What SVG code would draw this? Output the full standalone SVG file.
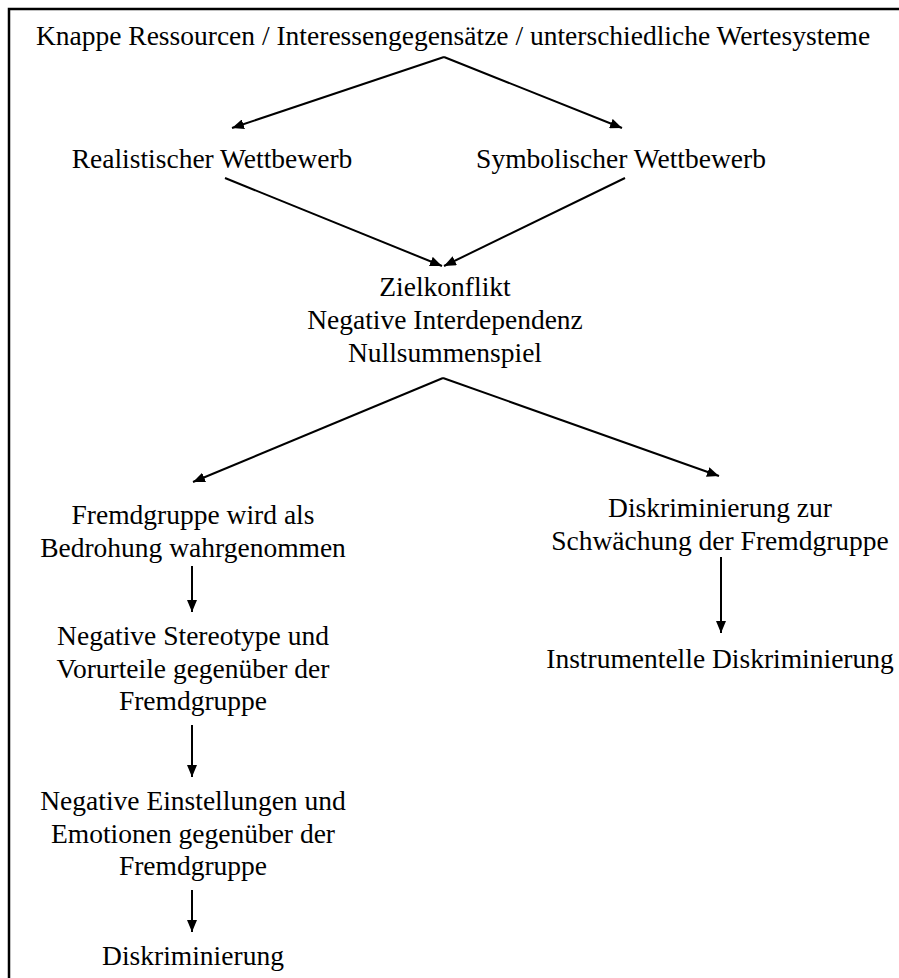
<svg xmlns="http://www.w3.org/2000/svg" width="899" height="978" viewBox="0 0 899 978">
  <style>
    .t { font-family: "Liberation Serif", "Times New Roman", serif; font-size: 27.5px; fill: #000; text-anchor: middle; }
    .c { stroke: #000; stroke-width: 2; fill: none; marker-end: url(#ah); }
  </style>
  <defs>
    <marker id="ah" viewBox="0 0 12 10" refX="12" refY="5" markerWidth="12" markerHeight="10" markerUnits="userSpaceOnUse" orient="auto">
      <path d="M0,0 L12,5 L0,10 Z" fill="#000"/>
    </marker>
  </defs>
  <rect width="899" height="978" fill="#fff"/>
  <!-- frame: top and left edges only -->
  <path d="M9,978 V9 H899" stroke="#000" stroke-width="2.5" fill="none"/>

  <g id="n-ursachen"><text class="t" x="453" y="45">Knappe Ressourcen / Interessengegensätze / unterschiedliche Wertesysteme</text></g>
  <g id="n-realistisch"><text class="t" x="212" y="168">Realistischer Wettbewerb</text></g>
  <g id="n-symbolisch"><text class="t" x="621" y="168">Symbolischer Wettbewerb</text></g>
  <g id="n-zielkonflikt">
    <text class="t" x="445" y="296">Zielkonflikt</text>
    <text class="t" x="445" y="329">Negative Interdependenz</text>
    <text class="t" x="445" y="362">Nullsummenspiel</text>
  </g>
  <g id="n-bedrohung">
    <text class="t" x="193" y="524">Fremdgruppe wird als</text>
    <text class="t" x="193" y="557">Bedrohung wahrgenommen</text>
  </g>
  <g id="n-stereotype">
    <text class="t" x="193" y="645">Negative Stereotype und</text>
    <text class="t" x="193" y="678">Vorurteile gegenüber der</text>
    <text class="t" x="193" y="710">Fremdgruppe</text>
  </g>
  <g id="n-einstellungen">
    <text class="t" x="193" y="810">Negative Einstellungen und</text>
    <text class="t" x="193" y="843">Emotionen gegenüber der</text>
    <text class="t" x="193" y="875">Fremdgruppe</text>
  </g>
  <g id="n-diskriminierung"><text class="t" x="193" y="965">Diskriminierung</text></g>
  <g id="n-schwaechung">
    <text class="t" x="720" y="517">Diskriminierung zur</text>
    <text class="t" x="720" y="550">Schwächung der Fremdgruppe</text>
  </g>
  <g id="n-instrumentell"><text class="t" x="720" y="668">Instrumentelle Diskriminierung</text></g>

  <g id="connectors">
    <path class="c" d="M444,57 L232,128"/>
    <path class="c" d="M444,57 L622,128"/>
    <path class="c" d="M225,178 L442,266"/>
    <path class="c" d="M625,178 L444,266"/>
    <path class="c" d="M443,378 L193,482"/>
    <path class="c" d="M443,378 L719,476"/>
    <path class="c" d="M192,566 L192,612"/>
    <path class="c" d="M192,725 L192,777"/>
    <path class="c" d="M192,890 L192,932"/>
    <path class="c" d="M721,557 L721,633"/>
  </g>
</svg>
